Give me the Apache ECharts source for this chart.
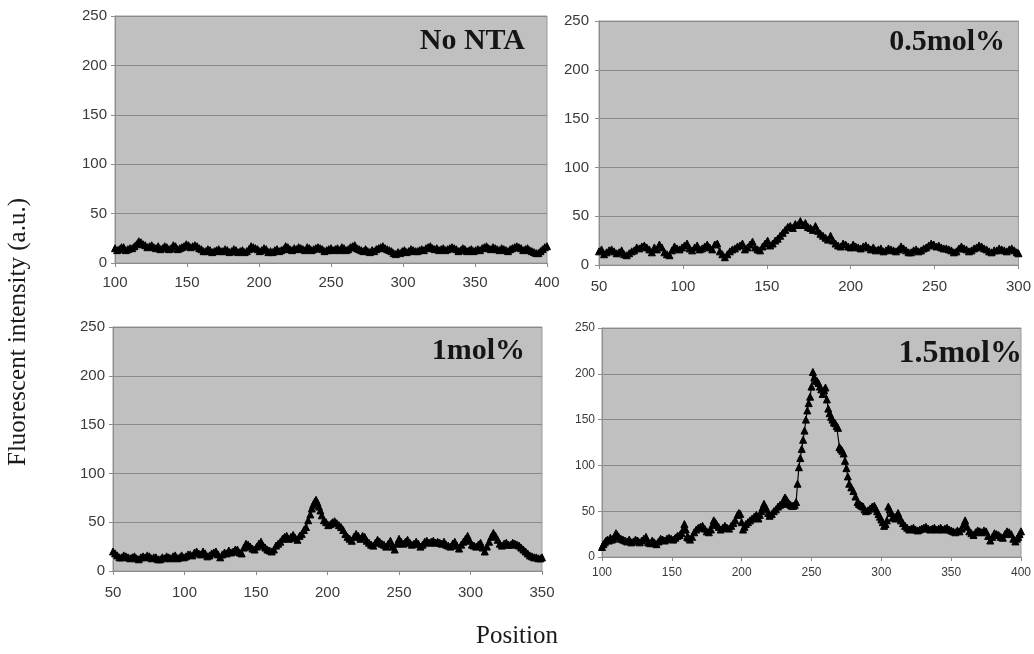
<!DOCTYPE html>
<html>
<head>
<meta charset="utf-8">
<script src="https://cdn.jsdelivr.net/npm/echarts@6/dist/echarts.min.js"></script>
<style>html,body{margin:0;padding:0;background:#fff}#c{width:1034px;height:654px}</style>
</head>
<body>
<div id="c"></div>
<script>
// ---- data: [position, fluorescent intensity] ----
const panelTitles = ['No NTA', '0.5mol%', '1mol%', '1.5mol%'];
const yTicks = [0, 50, 100, 150, 200, 250];
const xRanges = [[100, 400], [50, 300], [50, 350], [100, 400]];

const noNTA = [[100,15],[101.5,13],[103,14],[104.5,16],[106,16],[107.5,13],[109,14],[110.5,15],[112,15],[113.5,17],[115,19],[116.5,22],[118,21],[119.5,19],[121,18],[122.5,16],[124,17],[125.5,18],[127,16],[128.5,15],[130,17],[131.5,14],[133,15],[134.5,17],[136,16],[137.5,14],[139,15],[140.5,18],[142,17],[143.5,14],[145,15],[146.5,16],[148,17],[149.5,19],[151,18],[152.5,16],[154,17],[155.5,18],[157,17],[158.5,15],[160,14],[161.5,12],[163,12],[164.5,14],[166,13],[167.5,11],[169,12],[170.5,13],[172,14],[173.5,12],[175,12],[176.5,14],[178,13],[179.5,11],[181,12],[182.5,14],[184,13],[185.5,11],[187,12],[188.5,13],[190,11],[191.5,12],[193,14],[194.5,17],[196,16],[197.5,15],[199,14],[200.5,12],[202,13],[203.5,15],[205,14],[206.5,11],[208,12],[209.5,11],[211,13],[212.5,14],[214,12],[215.5,13],[217,14],[218.5,17],[220,16],[221.5,14],[223,13],[224.5,15],[226,14],[227.5,16],[229,15],[230.5,14],[232,13],[233.5,16],[235,15],[236.5,13],[238,14],[239.5,15],[241,16],[242.5,15],[244,14],[245.5,12],[247,13],[248.5,14],[250,15],[251.5,13],[253,14],[254.5,15],[256,13],[257.5,16],[259,15],[260.5,13],[262,14],[263.5,16],[265,17],[266.5,18],[268,15],[269.5,14],[271,13],[272.5,12],[274,14],[275.5,12],[277,11],[278.5,13],[280,12],[281.5,14],[283,15],[284.5,16],[286,17],[287.5,15],[289,14],[290.5,13],[292,12],[293.5,10],[295,9],[296.5,11],[298,10],[299.5,12],[301,13],[302.5,11],[304,12],[305.5,14],[307,13],[308.5,12],[310,12],[311.5,13],[313,14],[314.5,13],[316,15],[317.5,16],[319,17],[320.5,15],[322,14],[323.5,15],[325,13],[326.5,14],[328,15],[329.5,13],[331,14],[332.5,15],[334,16],[335.5,15],[337,14],[338.5,12],[340,13],[341.5,15],[343,14],[344.5,12],[346,13],[347.5,14],[349,12],[350.5,13],[352,14],[353.5,13],[355,15],[356.5,16],[358,17],[359.5,15],[361,14],[362.5,16],[364,15],[365.5,14],[367,13],[368.5,15],[370,14],[371.5,13],[373,12],[374.5,14],[376,15],[377.5,16],[379,17],[380.5,16],[382,15],[383.5,13],[385,14],[386.5,15],[388,13],[389.5,12],[391,11],[392.5,10],[394,10],[395.5,12],[397,14],[398.5,16],[400,17]];

const nta05 = [[50,14],[51.5,16],[53,11],[54.5,13],[56,15],[57.5,16],[59,14],[60.5,12],[62,13],[63.5,15],[65,11],[66.5,10],[68,12],[69.5,14],[71,15],[72.5,18],[74,17],[75.5,19],[77,20],[78.5,18],[80,16],[81.5,13],[83,18],[84.5,16],[86,21],[87.5,18],[89,13],[90.5,11],[92,10],[93.5,15],[95,19],[96.5,17],[98,16],[99.5,18],[101,20],[102.5,22],[104,17],[105.5,15],[107,18],[108.5,20],[110,16],[111.5,17],[113,19],[114.5,21],[116,18],[117.5,16],[119,21],[120.5,22],[122,14],[123.5,11],[125,8],[126.5,11],[128,14],[129.5,16],[131,17],[132.5,19],[134,20],[135.5,22],[137,16],[138.5,18],[140,21],[141.5,24],[143,18],[144.5,16],[146,15],[147.5,19],[149,22],[150.5,25],[152,20],[153.5,22],[155,25],[156.5,27],[158,30],[159.5,33],[161,36],[162.5,39],[164,40],[165.5,38],[167,42],[168.5,41],[170,45],[171.5,41],[173,43],[174.5,39],[176,38],[177.5,36],[179,40],[180.5,35],[182,32],[183.5,30],[185,28],[186.5,26],[188,30],[189.5,25],[191,22],[192.5,20],[194,19],[195.5,22],[197,21],[198.5,19],[200,18],[201.5,21],[203,19],[204.5,18],[206,17],[207.5,19],[209,20],[210.5,18],[212,16],[213.5,18],[215,15],[216.5,16],[218,17],[219.5,14],[221,15],[222.5,17],[224,16],[225.5,15],[227,14],[228.5,16],[230,19],[231.5,17],[233,15],[234.5,13],[236,13],[237.5,15],[239,16],[240.5,14],[242,15],[243.5,17],[245,18],[246.5,20],[248,22],[249.5,21],[251,19],[252.5,20],[254,18],[255.5,17],[257,17],[258.5,16],[260,15],[261.5,13],[263,14],[264.5,17],[266,19],[267.5,17],[269,16],[270.5,14],[272,15],[273.5,17],[275,18],[276.5,20],[278,19],[279.5,17],[281,16],[282.5,14],[284,13],[285.5,15],[287,15],[288.5,17],[290,16],[291.5,15],[293,14],[294.5,16],[296,17],[297.5,15],[299,13],[300,12]];

const nta10 = [[50,20],[51.5,18],[53,16],[54.5,14],[56,14],[57.5,16],[59,15],[60.5,14],[62,13],[63.5,14],[65,15],[66.5,13],[68,12],[69.5,14],[71,15],[72.5,14],[74,16],[75.5,15],[77,13],[78.5,14],[80,14],[81.5,12],[83,12],[84.5,14],[86,13],[87.5,15],[89,14],[90.5,13],[92,15],[93.5,16],[95,13],[96.5,14],[98,16],[99.5,14],[101,15],[102.5,17],[104,17],[105.5,16],[107,19],[108.5,20],[110,18],[111.5,17],[113,20],[114.5,18],[116,15],[117.5,16],[119,18],[120.5,19],[122,20],[123.5,17],[125,14],[126.5,17],[128,19],[129.5,18],[131,21],[132.5,19],[134,20],[135.5,22],[137,22],[138.5,19],[140,18],[141.5,24],[143,28],[144.5,27],[146,25],[147.5,23],[149,22],[150.5,25],[152,28],[153.5,30],[155,26],[156.5,24],[158,22],[159.5,21],[161,20],[162.5,22],[164,26],[165.5,28],[167,30],[168.5,33],[170,35],[171.5,36],[173,33],[174.5,35],[176,37],[177.5,34],[179,32],[180.5,36],[182,38],[183.5,42],[185,45],[186.5,52],[188,58],[189,64],[190,68],[191,71],[192,73],[193,70],[194,66],[195,62],[196,57],[197.5,52],[199,50],[200.5,47],[202,48],[203.5,50],[205,51],[206.5,49],[208,47],[209.5,45],[211,42],[212.5,38],[214,35],[215.5,33],[217,31],[218.5,35],[220,38],[221.5,36],[223,33],[224.5,36],[226,35],[227.5,31],[229,29],[230.5,27],[232,26],[233.5,29],[235,32],[236.5,30],[238,28],[239.5,27],[241,25],[242.5,28],[244,31],[245.5,25],[247,22],[248.5,28],[250,33],[251.5,30],[253,28],[254.5,30],[256,32],[257.5,29],[259,27],[260.5,28],[262,30],[263.5,28],[265,25],[266.5,27],[268,30],[269.5,31],[271,29],[272.5,30],[274,31],[275.5,29],[277,30],[278.5,29],[280,28],[281.5,30],[283,27],[284.5,26],[286,25],[287.5,28],[289,30],[290.5,26],[292,23],[293.5,27],[295,30],[296.5,33],[298,36],[299.5,31],[301,27],[302.5,26],[304,25],[305.5,27],[307,29],[308.5,24],[310,20],[311.5,25],[313,30],[314.5,35],[316,39],[317.5,36],[319,32],[320.5,28],[322,26],[323.5,28],[325,29],[326.5,27],[328,27],[329.5,29],[331,28],[332.5,27],[334,26],[335.5,24],[337,22],[338.5,20],[340,18],[341.5,16],[343,15],[344.5,14],[346,14],[347.5,13],[349,13],[350,14]];

const nta15 = [[100,11],[101,14],[102,16],[103,18],[104,19],[105,18],[106,21],[107,19],[108,20],[109,23],[110,26],[111,24],[112,22],[113.5,20],[115,19],[116.5,18],[118,17],[119.5,19],[121,16],[122.5,17],[124,19],[125.5,18],[127,16],[128.5,18],[130,20],[131.5,22],[133,16],[134.5,15],[136,18],[137.5,16],[139,14],[140.5,17],[142,20],[143.5,19],[145,18],[146.5,20],[148,21],[149.5,20],[151,19],[152.5,21],[154,23],[155.5,24],[157,26],[158,30],[159,36],[160,30],[161,22],[162,21],[163,19],[164.5,22],[166,27],[167.5,30],[169,32],[170.5,33],[172,34],[173.5,31],[175,28],[176.5,27],[178,30],[179,35],[180,40],[181,38],[182,36],[183.5,33],[185,30],[186.5,32],[188,34],[189.5,32],[191,31],[192.5,34],[194,37],[195.5,40],[197,46],[198,48],[199,47],[200,38],[201,30],[202,33],[203,36],[204.5,38],[206,40],[207.5,42],[209,44],[210.5,46],[212,42],[213,46],[214,50],[215,54],[216,58],[217,55],[218,52],[219,48],[220,45],[221.5,47],[223,50],[224.5,52],[226,55],[227.5,57],[229,58],[230,62],[231,65],[232,63],[233,60],[234,58],[235,57],[236,56],[237,56],[238,57],[239,60],[240,80],[241,98],[242,108],[243,118],[244,128],[245,138],[246,150],[247,160],[248,168],[249,175],[250,186],[251,202],[252,196],[253,193],[254,192],[255,190],[256,186],[257,183],[258,178],[259,182],[260,185],[261,172],[262,162],[263,157],[264,153],[265,150],[266,147],[267,146],[268,143],[269,141],[270,120],[271,118],[272,116],[273,113],[274,105],[275,97],[276,88],[277,80],[278.5,76],[280,72],[281.5,66],[283,60],[284,58],[285,57],[286,56],[287,55],[288,52],[289,50],[290.5,51],[292,53],[293.5,55],[295,56],[296,53],[297,50],[298,47],[299,44],[300,41],[301,38],[302,34],[303,36],[304,40],[305,55],[306,52],[307,48],[308,43],[309,44],[310,42],[311,45],[312,48],[313,44],[314,40],[315.5,37],[317,34],[318.5,32],[320,30],[321.5,31],[323,32],[324.5,30],[326,29],[327.5,30],[329,31],[330.5,32],[332,33],[333.5,31],[335,30],[336.5,31],[338,32],[339.5,30],[341,31],[342.5,32],[344,30],[345.5,31],[347,32],[348.5,30],[350,29],[351.5,28],[353,27],[354.5,29],[356,28],[357.5,31],[359,36],[360,40],[361.5,33],[363,28],[364.5,26],[366,24],[367.5,27],[369,29],[370.5,28],[372,27],[373.5,29],[375,28],[376.5,23],[378,18],[379.5,22],[381,26],[382.5,25],[384,24],[385.5,22],[387,21],[388.5,25],[390,28],[391.5,27],[393,25],[394.5,20],[396,17],[397,20],[398,22],[399,25],[400,28]];

const seriesData = [noNTA, nta05, nta10, nta15];

// ---- layout ----
const grids = [
  {left: 115, top: 16, width: 432, height: 247},
  {left: 599, top: 21, width: 422, height: 244},
  {left: 113, top: 327, width: 429, height: 244},
  {left: 602, top: 328, width: 422, height: 229}
];
const labelSizes = [15, 15, 15, 12];
const xMargins = [12, 14, 14, 10];
const yMargins = [8, 10, 8, 7];
const titleRight = [509, 29, 509, 12];
const titleTop = [26, 27, 336, 338];
const titleSizes = [30, 30, 30, 32];

const chart = echarts.init(document.getElementById('c'), null, {renderer: 'canvas'});
const sansFont = '"Liberation Sans", Arial, sans-serif';
const serifFont = '"Liberation Serif", "Times New Roman", serif';

const option = {
  animation: false,
  backgroundColor: '#ffffff',
  grid: grids.map(g => Object.assign({show: true, backgroundColor: '#c0c0c0', borderColor: '#9a9a9a', borderWidth: 1}, g)),
  xAxis: xRanges.map((r, i) => ({
    type: 'value', gridIndex: i, min: r[0], max: r[1], interval: 50,
    axisLine: {show: true, onZero: false, lineStyle: {color: '#8c8c8c', width: 1}},
    axisTick: {show: true, length: 4, lineStyle: {color: '#8c8c8c'}},
    splitLine: {show: false},
    axisLabel: {color: '#3a3a3a', fontSize: labelSizes[i], fontFamily: sansFont, margin: xMargins[i]}
  })),
  yAxis: xRanges.map((r, i) => ({
    type: 'value', gridIndex: i, min: yTicks[0], max: yTicks[yTicks.length - 1], interval: 50,
    axisLine: {show: true, lineStyle: {color: '#8c8c8c', width: 1}},
    axisTick: {show: true, length: 4, lineStyle: {color: '#8c8c8c'}},
    splitLine: {show: true, lineStyle: {color: '#8a8a8a', width: 1}},
    axisLabel: {color: '#3a3a3a', fontSize: labelSizes[i], fontFamily: sansFont, margin: yMargins[i]}
  })),
  series: seriesData.map((d, i) => ({
    type: 'line', xAxisIndex: i, yAxisIndex: i, data: d,
    symbol: 'triangle', symbolSize: 7, showSymbol: true,
    lineStyle: {color: '#000', width: 1.2},
    itemStyle: {color: '#000', borderColor: '#000', borderWidth: 1},
    emphasis: {disabled: true}
  })),
  graphic: panelTitles.map((t, i) => ({
    type: 'text', right: titleRight[i], top: titleTop[i], z: 100,
    style: {text: t, font: 'bold ' + titleSizes[i] + 'px ' + serifFont, fill: '#151515'}
  })).concat([
    {type: 'text', x: 18, y: 332, rotation: Math.PI / 2, z: 100,
     style: {text: 'Fluorescent intensity (a.u.)', font: '25px ' + serifFont, fill: '#1a1a1a', textAlign: 'center', textVerticalAlign: 'middle'}},
    {type: 'text', x: 517, y: 636, z: 100,
     style: {text: 'Position', font: '25px ' + serifFont, fill: '#1a1a1a', textAlign: 'center', textVerticalAlign: 'middle'}}
  ])
};
chart.setOption(option);
</script>
</body>
</html>
